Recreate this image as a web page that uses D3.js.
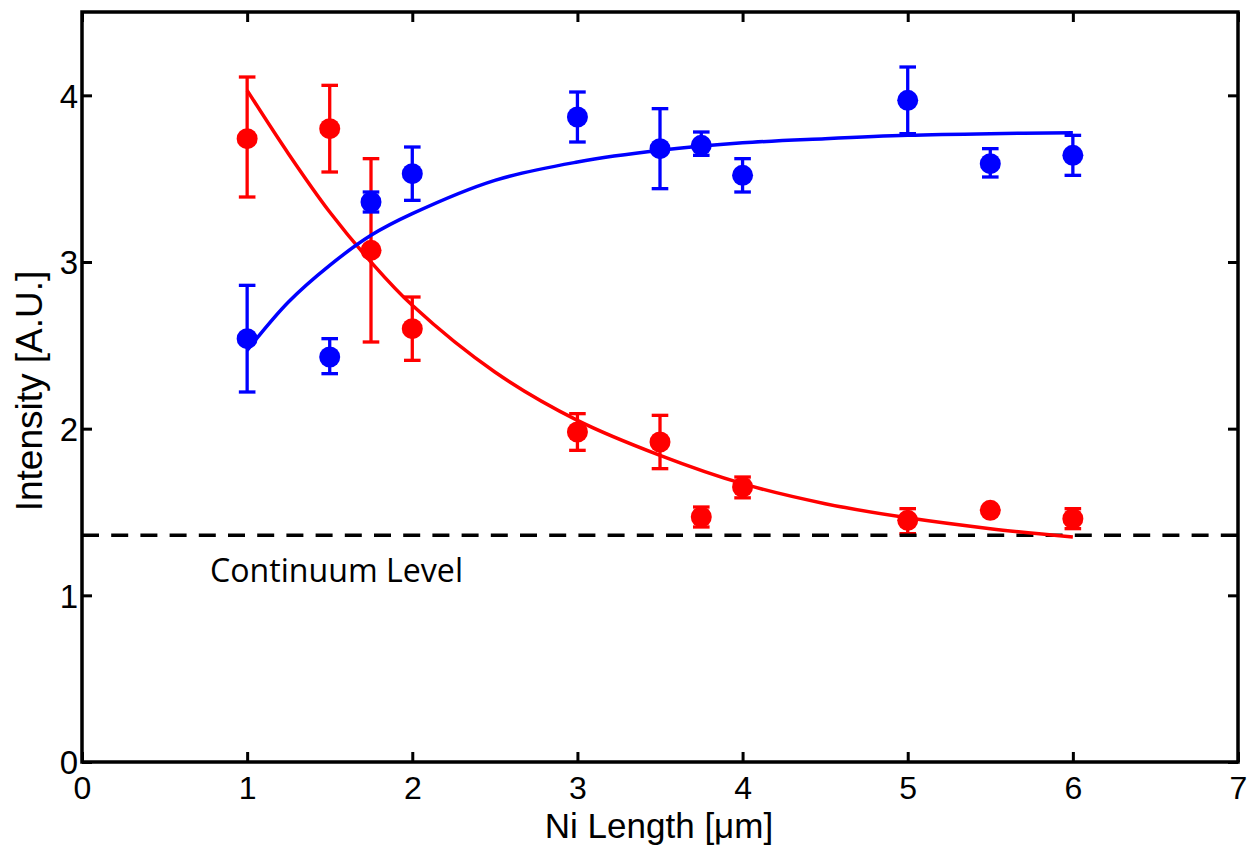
<!DOCTYPE html>
<html>
<head>
<meta charset="utf-8">
<script src="https://cdn.jsdelivr.net/npm/d3@7"></script>
<style>
  html, body { margin: 0; padding: 0; background: #fff; }
  svg { display: block; }
</style>
</head>
<body>
<svg id="chart" width="1253" height="846"></svg>
<script>
// ---- data ----
const niLength = [1, 1.5, 1.75, 2, 3, 3.5, 3.75, 4, 5, 5.5, 6];
const redY  = [3.74, 3.80, 3.07, 2.60, 1.98, 1.92, 1.47, 1.65, 1.45, 1.51, 1.46];
const redLo = [3.39, 3.54, 2.52, 2.41, 1.87, 1.76, 1.41, 1.585, 1.37, 1.50, 1.40];
const redHi = [4.11, 4.06, 3.62, 2.79, 2.09, 2.08, 1.53, 1.71, 1.52, 1.52, 1.52];
const blueY  = [2.54, 2.43, 3.36, 3.53, 3.87, 3.68, 3.70, 3.52, 3.97, 3.59, 3.64];
const blueLo = [2.22, 2.33, 3.30, 3.37, 3.72, 3.44, 3.64, 3.42, 3.77, 3.51, 3.52];
const blueHi = [2.86, 2.54, 3.42, 3.69, 4.02, 3.92, 3.78, 3.62, 4.17, 3.68, 3.76];
const fitX    = [1, 1.25, 1.5, 1.75, 2, 2.5, 3, 3.5, 4, 4.5, 5, 5.5, 6];
const redFit  = [4.03, 3.65, 3.30, 3.00, 2.74, 2.34, 2.05, 1.84, 1.67, 1.55, 1.465, 1.40, 1.35];
const blueFit = [2.47, 2.76, 2.98, 3.16, 3.29, 3.49, 3.60, 3.67, 3.715, 3.74, 3.76, 3.77, 3.775];
const continuumLevel = 1.36;
const xTicks = [0, 1, 2, 3, 4, 5, 6, 7];
const yTicks = [0, 1, 2, 3, 4];
const xTitle = "Ni Length [\u03bcm]";
const yTitle = "Intensity [A.U.]";
const annotation = "Continuum Level";

// ---- layout ----
const svg = d3.select("#chart");
const L = 82, R = 1238, T = 12, B = 762;
const x = d3.scaleLinear().domain([0, 7]).range([L, R]);
const y = d3.scaleLinear().domain([0, 4.5]).range([B, T]);
const tickFont = "Liberation Sans, Arial, Helvetica, sans-serif";
const RED = "#ff0000", BLUE = "#0000ff";

// axes (ticks inward on all sides)
function styleAxis(g) {
  g.select(".domain").remove();
  g.selectAll(".tick line").attr("stroke", "#000").attr("stroke-width", 3);
  g.selectAll("text").attr("font-family", tickFont).attr("font-size", 32).attr("fill", "#000");
}
const gx = svg.append("g").attr("transform", `translate(0,${B})`)
  .call(d3.axisBottom(x).tickValues(xTicks).tickFormat(d3.format("d")).tickSizeInner(-10).tickSizeOuter(0));
styleAxis(gx);
gx.selectAll("text").attr("y", 37).attr("dy", 0);

const gxt = svg.append("g").attr("transform", `translate(0,${T})`)
  .call(d3.axisTop(x).tickValues(xTicks).tickFormat("").tickSizeInner(-10).tickSizeOuter(0));
styleAxis(gxt);

const gy = svg.append("g").attr("transform", `translate(${L},0)`)
  .call(d3.axisLeft(y).tickValues(yTicks).tickFormat(d3.format("d")).tickSizeInner(-10).tickSizeOuter(0));
styleAxis(gy);
gy.selectAll("text").attr("x", -4).attr("dy", "0.36em").attr("font-size", 33);

const gyr = svg.append("g").attr("transform", `translate(${R},0)`)
  .call(d3.axisRight(y).tickValues(yTicks).tickFormat("").tickSizeInner(-10).tickSizeOuter(0));
styleAxis(gyr);

svg.append("rect").attr("x", L).attr("y", T).attr("width", R - L).attr("height", B - T)
  .attr("fill", "none").attr("stroke", "#000").attr("stroke-width", 3.5);

// titles
svg.append("text").attr("x", (L + R) / 2 - 1).attr("y", 838).attr("text-anchor", "middle")
  .attr("font-family", tickFont).attr("font-size", 35).text(xTitle);
svg.append("text").attr("transform", "translate(42,391) rotate(-90)").attr("text-anchor", "middle")
  .attr("font-family", tickFont).attr("font-size", 37).text(yTitle);

// series
function drawSeries(color, ys, lo, hi) {
  const g = svg.append("g");
  const cap = 8.3;
  niLength.forEach((xv, i) => {
    const cx = x(xv);
    g.append("line").attr("x1", cx).attr("x2", cx).attr("y1", y(lo[i])).attr("y2", y(hi[i]))
      .attr("stroke", color).attr("stroke-width", 3.3);
    [lo[i], hi[i]].forEach(v => {
      g.append("line").attr("x1", cx - cap).attr("x2", cx + cap).attr("y1", y(v)).attr("y2", y(v))
        .attr("stroke", color).attr("stroke-width", 3.3);
    });
  });
  g.selectAll("circle").data(niLength).join("circle")
    .attr("cx", d => x(d)).attr("cy", (d, i) => y(ys[i])).attr("r", 10.5).attr("fill", color);
}
drawSeries(RED, redY, redLo, redHi);
drawSeries(BLUE, blueY, blueLo, blueHi);

// continuum level
svg.append("line").attr("x1", L).attr("x2", R).attr("y1", y(continuumLevel)).attr("y2", y(continuumLevel))
  .attr("stroke", "#000").attr("stroke-width", 3.5).attr("stroke-dasharray", "17,12.2");
svg.append("text").attr("x", 210).attr("y", 582)
  .attr("font-family", "Open Sans, Lato, sans-serif").attr("font-size", 32)
  .attr("textLength", 253).attr("lengthAdjust", "spacingAndGlyphs").text(annotation);

// fits
const line = d3.line().x(d => x(d[0])).y(d => y(d[1])).curve(d3.curveCatmullRom.alpha(0.5));
svg.append("path").attr("d", line(fitX.map((v, i) => [v, redFit[i]])))
  .attr("fill", "none").attr("stroke", RED).attr("stroke-width", 3.5);
svg.append("path").attr("d", line(fitX.map((v, i) => [v, blueFit[i]])))
  .attr("fill", "none").attr("stroke", BLUE).attr("stroke-width", 3.5);
</script>
</body>
</html>
